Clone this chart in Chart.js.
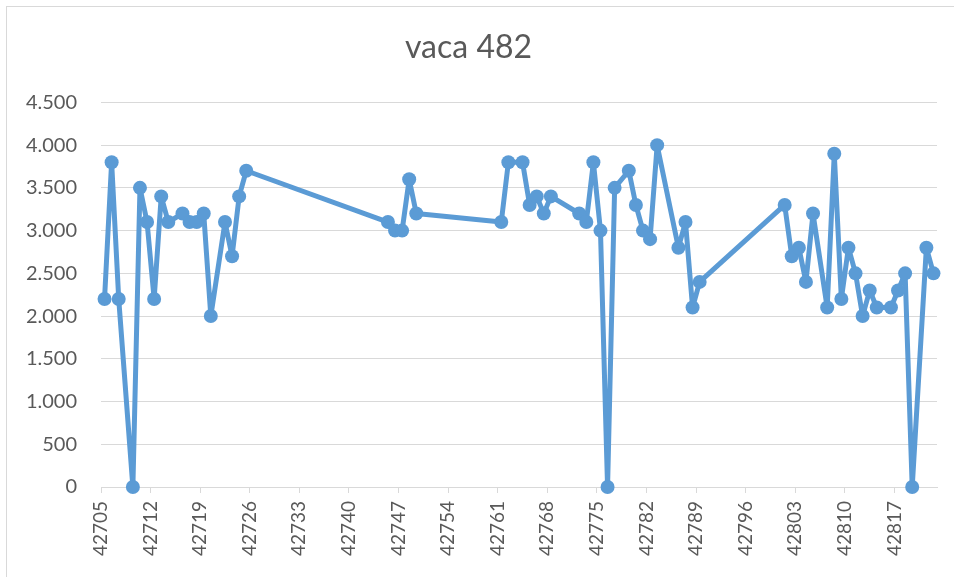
<!DOCTYPE html>
<html lang="es">
<head>
<meta charset="utf-8">
<title>vaca 482</title>
<style type="text/css">
  body { margin: 0; background: #ffffff; }
  #wrap { position: relative; width: 954px; height: 577px; }
  #frame { position: absolute; left: 6px; top: 6px; right: 0; bottom: 0;
           border-left: 1px solid #d9d9d9; border-top: 1px solid #d9d9d9; }
  canvas { position: absolute; left: 0; top: 0; }
</style>
</head>
<body>

<div id="wrap">
  <div id="frame"></div>
  <canvas id="myChart" width="954" height="577"></canvas>
</div>

<script src="https://cdn.jsdelivr.net/npm/chart.js"></script>

<script>
  // excel date serials on x, values on y
  const Dates = [42705,42706,42707,42709,42710,42711,42712,42713,42714,42716,42717,42718,42719,42720,42722,42723,42724,42725,
                 42745,42746,42747,42748,42749,
                 42761,42762,42764,42765,42766,42767,42768,42772,42773,42774,42775,42776,42777,42779,42780,42781,42782,42783,42786,42787,42788,42789,
                 42801,42802,42803,42804,42805,42807,42808,42809,42810,42811,42812,42813,42814,42816,42817,42818,42819,42821,42822];
  const Values = [2200,3800,2200,0,3500,3100,2200,3400,3100,3200,3100,3100,3200,2000,3100,2700,3400,3700,
                  3100,3000,3000,3600,3200,
                  3100,3800,3800,3300,3400,3200,3400,3200,3100,3800,3000,0,3500,3700,3300,3000,2900,4000,2800,3100,2100,2400,
                  3300,2700,2800,2400,3200,2100,3900,2200,2800,2500,2000,2300,2100,2100,2300,2500,0,2800,2500];
  const XTickLabels = ['42705','42712','42719','42726','42733','42740','42747','42754','42761','42768','42775','42782','42789','42796','42803','42810','42817'];
  const YTicks = [0,500,1000,1500,2000,2500,3000,3500,4000,4500];

  const TXT = '#595959';
  const GRID = '#d9d9d9';
  const BLUE = '#5b9bd5';

  let Datapts = [];
  for (var i = 0; i < Dates.length; ++i) {
    Datapts.push({x: Dates[i], y: Values[i]});
  }

  // points sit in the middle of each day slot, ticks on slot edges
  const XMIN = 42704.5;
  const XMAX = 42822.5;

  const ctx = document.getElementById('myChart');
  const our_chart = new Chart(ctx, {
    type: 'scatter',
    data: {
      datasets: [{
        label: 'vaca 482',
        data: Datapts,
        showLine: true,
        clip: false,
        tension: 0,
        borderColor: BLUE,
        backgroundColor: BLUE,
        borderWidth: 5,
        borderJoinStyle: 'round',
        borderCapStyle: 'round',
        pointRadius: 7,
        pointHoverRadius: 7,
        pointBorderWidth: 0,
        pointBackgroundColor: BLUE
      }]
    },
    options: {
      responsive: false,
      animation: false,
      layout: {padding: {left: 0, right: 17, top: 0, bottom: 0}},
      plugins: {
        legend: {display: false},
        tooltip: {enabled: false},
        title: {
          display: true,
          text: 'vaca 482',
          color: TXT,
          font: {family: 'Lato', size: 32, weight: 'normal'},
          padding: {top: 28, bottom: 36}
        }
      },
      scales: {
        x: {
          type: 'linear',
          min: XMIN, max: XMAX,
          afterBuildTicks: (axis) => {
            axis.ticks = XTickLabels.map(v => ({value: parseFloat(v) - 0.5}));
          },
          afterFit: (axis) => { axis.height = 90; },
          grid: {drawOnChartArea: false, drawTicks: true, tickLength: 6, color: GRID, lineWidth: 1},
          border: {display: true, color: GRID, width: 1},
          ticks: {
            color: TXT,
            font: {family: 'Lato', size: 19},
            minRotation: 90, maxRotation: 90,
            autoSkip: false,
            padding: 8,
            callback: (v) => String(Math.round(v + 0.5))
          }
        },
        y: {
          min: 0, max: 4500,
          afterBuildTicks: (axis) => { axis.ticks = YTicks.map(v => ({value: v})); },
          afterFit: (axis) => { axis.width = 101; },
          grid: {color: GRID, lineWidth: 1, drawTicks: false},
          border: {display: false},
          ticks: {
            color: TXT,
            font: {family: 'Lato', size: 20},
            padding: 24,
            callback: (v) => String(v).replace(/\B(?=(\d{3})+(?!\d))/g, '.')
          }
        }
      }
    }
  });
</script>
</body>
</html>
